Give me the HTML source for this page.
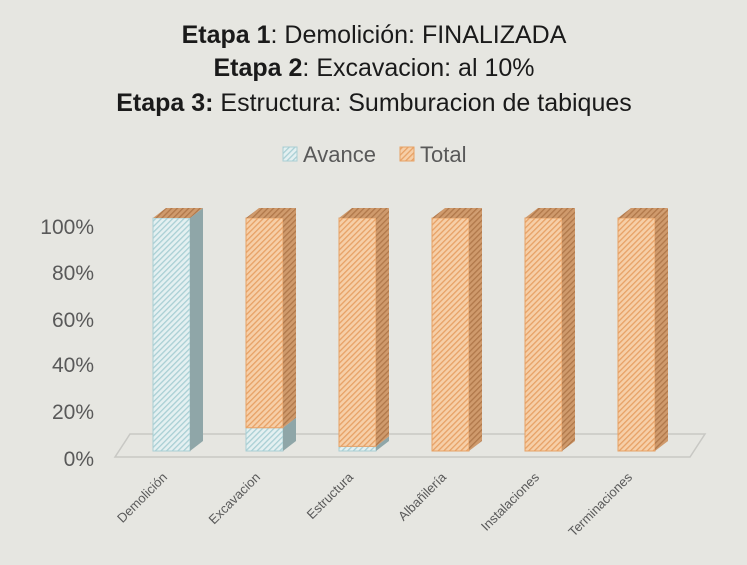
<!DOCTYPE html>
<html><head><meta charset="utf-8"><style>
html,body{margin:0;padding:0;background:#e6e6e1;}
svg{display:block;font-family:"Liberation Sans",sans-serif;}
</style></head><body>
<svg width="747" height="565" viewBox="0 0 747 565" xmlns="http://www.w3.org/2000/svg">
<defs>
<pattern id="pb" width="4" height="4" patternUnits="userSpaceOnUse" patternTransform="rotate(45)">
<rect width="4" height="4" fill="#e4f0f1"/><rect width="1.3" height="4" fill="#a9cfd4"/></pattern>
<pattern id="po" width="4" height="4" patternUnits="userSpaceOnUse" patternTransform="rotate(45)">
<rect width="4" height="4" fill="#f6cfa8"/><rect width="1.3" height="4" fill="#e7a165"/></pattern>
<pattern id="pos" width="4" height="4" patternUnits="userSpaceOnUse" patternTransform="rotate(45)">
<rect width="4" height="4" fill="#cf9a6c"/><rect width="1.3" height="4" fill="#b0784a"/></pattern>
</defs>
<rect width="747" height="565" fill="#e6e6e1"/>
<g text-anchor="middle" font-size="25" fill="#1a1a1a">
<text x="374" y="43"><tspan font-weight="bold">Etapa 1</tspan>: Demolición: FINALIZADA</text>
<text x="374" y="76"><tspan font-weight="bold">Etapa 2</tspan>: Excavacion: al 10%</text>
<text x="374" y="111"><tspan font-weight="bold">Etapa 3:</tspan> Estructura: Sumburacion de tabiques</text>
</g>
<rect x="283" y="147" width="14" height="14" fill="url(#pb)" stroke="#a9cfd4"/>
<text x="303" y="162" font-size="22" fill="#595959">Avance</text>
<rect x="400" y="147" width="14" height="14" fill="url(#po)" stroke="#e7a165"/>
<text x="420" y="162" font-size="22" fill="#595959">Total</text>
<g font-size="21" fill="#595959" text-anchor="end">
<text x="94" y="234">100%</text><text x="94" y="280">80%</text><text x="94" y="327">60%</text>
<text x="94" y="372">40%</text><text x="94" y="419">20%</text><text x="94" y="466">0%</text>
</g>
<polygon points="115,457 690,457 705,434 130,434" fill="none" stroke="#c8c8c4" stroke-width="1.5"/>
<g id="bars"></g>
<script>
var s=document.getElementById('bars'),NS='http://www.w3.org/2000/svg';
function p(pts,f,st){var e=document.createElementNS(NS,'polygon');e.setAttribute('points',pts);e.setAttribute('fill',f);if(st){e.setAttribute('stroke',st);e.setAttribute('stroke-width','1');}s.appendChild(e);}
var av=[1,0.1,0.02,0,0,0],bot=451,H=233,w=37,dx=13,dy=-10;
for(var i=0;i<6;i++){var x=153+i*93;var ya=bot-av[i]*H,yt=bot-H;
if(av[i]>0){p(x+','+ya+' '+(x+w)+','+ya+' '+(x+w)+','+bot+' '+x+','+bot,'url(#pb)','#a9cfd4');
p((x+w)+','+ya+' '+(x+w+dx)+','+(ya+dy)+' '+(x+w+dx)+','+(bot+dy)+' '+(x+w)+','+bot,'#8fa6a8');}
if(av[i]<1){p(x+','+yt+' '+(x+w)+','+yt+' '+(x+w)+','+ya+' '+x+','+ya,'url(#po)','#e7a165');
p((x+w)+','+yt+' '+(x+w+dx)+','+(yt+dy)+' '+(x+w+dx)+','+(ya+dy)+' '+(x+w)+','+ya,'url(#pos)');}
p(x+','+yt+' '+(x+dx)+','+(yt+dy)+' '+(x+w+dx)+','+(yt+dy)+' '+(x+w)+','+yt,'url(#pos)');}
</script>
<g font-size="13" fill="#595959" text-anchor="end">
<text transform="translate(168,478) rotate(-45)">Demolición</text>
<text transform="translate(261,478) rotate(-45)">Excavacion</text>
<text transform="translate(354,478) rotate(-45)">Estructura</text>
<text transform="translate(447,478) rotate(-45)">Albañilería</text>
<text transform="translate(540,478) rotate(-45)">Instalaciones</text>
<text transform="translate(633,478) rotate(-45)">Terminaciones</text>
</g>
</svg>
</body></html>
